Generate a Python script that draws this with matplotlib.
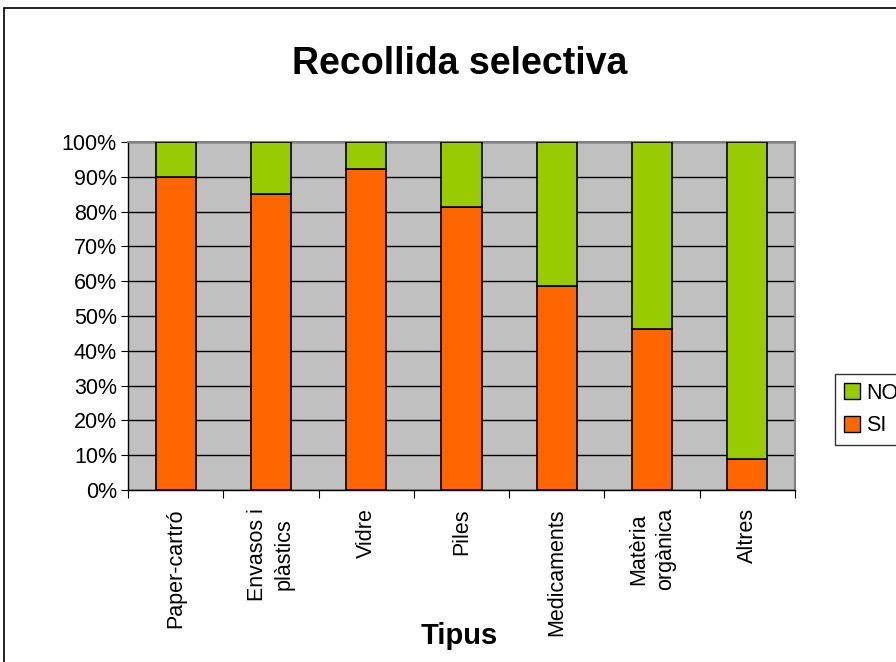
import numpy as np
import matplotlib.pyplot as plt
from matplotlib.patches import Rectangle, Patch

plt.rcParams['font.family'] = ['Liberation Sans', 'DejaVu Sans']

# data
categories = ["Paper-cartró", "Envasos i\nplàstics", "Vidre", "Piles",
              "Medicaments", "Matèria\norgànica", "Altres"]
si = np.array([0.90, 0.85, 0.922, 0.813, 0.586, 0.463, 0.089])
no = 1 - si

orange = '#FF6600'
green = '#99CC00'

fig = plt.figure(figsize=(8.96, 6.62), dpi=100)
ax = fig.add_axes([128 / 896, 1 - 490 / 662, (795 - 128) / 896, (490 - 142) / 662])
ax.set_facecolor('#C0C0C0')

x = np.arange(len(categories))
ax.bar(x, si, width=0.42, color=orange, edgecolor='black', linewidth=1.2, zorder=3)
ax.bar(x, no, width=0.42, bottom=si, color=green, edgecolor='black', linewidth=1.2, zorder=3)

ax.set_xlim(-0.5, len(categories) - 0.5)
ax.set_ylim(0, 1)
ax.set_yticks(np.arange(0, 1.01, 0.1))
ax.set_yticklabels([f"{int(round(v * 100))}%" for v in np.arange(0, 1.01, 0.1)], fontsize=15.5)
ax.yaxis.grid(True, color='black', linewidth=1, zorder=0)
ax.set_axisbelow(True)

# category ticks at boundaries, labels at centers
ax.set_xticks(np.arange(-0.5, len(categories) + 0.5, 1))
ax.set_xticklabels([])
ax.set_xticks(x, minor=True)
ax.set_xticklabels(categories, minor=True, rotation=90, fontsize=15.5,
                   va='top', ha='center', linespacing=1.35)
ax.tick_params(axis='x', which='minor', length=0, pad=13)
ax.tick_params(axis='x', which='major', length=6, color='black', direction='out')
ax.tick_params(axis='y', length=5, color='black', direction='out', pad=3)

for s in ['top', 'right']:
    ax.spines[s].set_color('#808080')
    ax.spines[s].set_linewidth(1.5)
for s in ['left', 'bottom']:
    ax.spines[s].set_color('black')
    ax.spines[s].set_linewidth(1)

fig.text(460 / 896, 1 - 64 / 662, "Recollida selectiva", fontsize=27, fontweight='bold',
         ha='center', va='center')
fig.text(459 / 896, 1 - 636 / 662, "Tipus", fontsize=21, fontweight='bold',
         ha='center', va='center')

handles = [Patch(facecolor=green, edgecolor='black', label='NO'),
           Patch(facecolor=orange, edgecolor='black', label='SI')]
leg = fig.legend(handles=handles, loc='upper left', bbox_to_anchor=(835 / 896, 1 - 374 / 662),
                 fontsize=15.5, frameon=True, fancybox=False, handlelength=0.75, handleheight=0.75,
                 handletextpad=0.3, borderpad=0.4, labelspacing=0.55, borderaxespad=0)
leg.get_frame().set_edgecolor('black')
leg.get_frame().set_linewidth(1)

# outer chart border
fig.patches.append(Rectangle((4 / 896, -0.05), 1.1, 1 - 8 / 662 + 0.05, transform=fig.transFigure,
                             fill=False, edgecolor='black', linewidth=1.2, clip_on=False))

fig.savefig('out.png', dpi=100)
